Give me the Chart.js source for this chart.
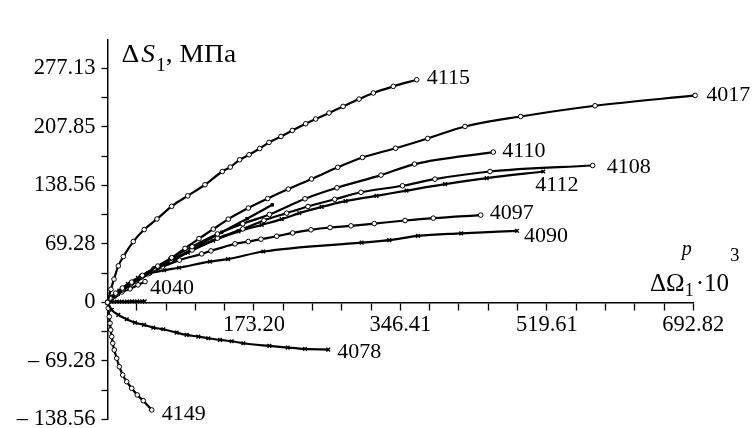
<!DOCTYPE html>
<html>
<head>
<meta charset="utf-8">
<script src="https://cdn.jsdelivr.net/npm/chart.js@4.4.0/dist/chart.umd.min.js"></script>
<style>
  html, body { margin: 0; padding: 0; background: #fff; }
  canvas { display: block; }
</style>
</head>
<body>
<canvas id="c" width="755" height="428"></canvas>
<script>
// Stress increment ΔS1 (MPa) versus plastic strain increment ΔΩ1^p·10^3
const curve4115 = [[0,0],[4.1,15.6],[7.7,27.5],[12.8,43.2],[18.7,54.2],[30.5,72.0],[43.4,86.2],[58.5,98.7],[75.9,113.7],[94.9,126.1],[115.3,139.2],[135.8,154.9],[145.2,160.1],[156.3,168.8],[167.4,174.7],[180.0,182.1],[191.0,189.3],[205.2,196.4],[218.6,203.5],[234.4,211.4],[246.2,217.0],[262.0,224.1],[278.6,231.9],[297.5,240.6],[314.4,247.8],[338.0,255.6],[365.7,263.5]];
const curve4017 = [[0,0],[3,5],[9.7,11],[17.5,17],[28.6,24],[41.2,32],[59.4,43],[75.9,53],[91.7,64],[108.2,75.5],[125.1,86.7],[142.9,98.5],[166.5,111.6],[189.5,122.9],[213.8,134.1],[241.3,146.0],[272.3,159.9],[301.6,171.5],[340.6,182.4],[378.7,194.0],[422.8,208.2],[488.7,220.0],[576.6,232.7],[695.0,244.9]];
const curve4110 = [[0,0],[4,5],[10,10],[18,16],[28,23],[40,31],[55,40],[75,52],[100,66],[130,81],[160,93],[191.5,104],[233.6,122.6],[271.4,135.6],[323.5,150.6],[363.1,163.7],[456.3,177.9]];
const curve4108 = [[0,0],[4,4.5],[10,9.5],[18,15],[28,22],[40,30],[55,39],[75,50],[100,62],[130,76],[160,87],[185,97],[211.9,105.6],[237.1,113.5],[268.7,122.0],[299.8,130.3],[348.9,138.0],[387.3,145.9],[452.4,154.9],[573.8,162.0]];
const curve4112 = [[0,0],[5,5],[12,10],[22,17],[35,26],[50,35],[70,46],[95,59],[125,73],[155,84],[182.4,91.8],[206.0,98.5],[226.8,105.6],[253.3,113.1],[281.5,119.9],[318.1,126.1],[353.6,132.3],[399.2,140.0],[448.5,147.1],[515.4,154.9]];
const curve4097 = [[0,0],[5,5],[12,10],[22,17],[33,25],[48,34],[65,42],[85,50],[111.4,57.4],[122.4,61.0],[150.8,69.3],[166.5,72.0],[181.5,74.8],[200.1,78.3],[219.0,82.2],[240.7,85.9],[263.2,88.6],[288.0,90.6],[315.5,93.3],[351.9,96.9],[385.3,99.7],[441.4,103.3]];
const curve4090 = [[0,0],[6,7],[14,14],[24,22],[36,29],[48,34],[67.2,38],[84.6,41],[121.2,48.3],[142.5,51.2],[184.3,60.2],[300.6,70.8],[333.3,73.7],[367.2,78.8],[418.4,81.7],[484.3,84.7]];
const curve4040 = [[0,0],[8.9,7.7],[17.1,12.4],[26.6,16.0],[36.1,20.7],[44.4,24.6]];
const curveShort = [[0,0],[8,7],[20,15],[35,25],[50,34],[75,48],[105,66],[135,83],[165,99],[194.8,115.5]];
const curveFlat = [[0,0],[5,0.8],[11,1],[17,1],[23,1],[29,1.2],[35,1.2],[41,1.3],[44,1.3]];
const curve4078 = [[0,0],[5,-8.9],[12.8,-14.8],[22.7,-19.9],[32.5,-23.9],[43.2,-26.6],[54.2,-29.8],[66,-31.8],[81.8,-35.8],[93.7,-38.5],[107.4,-40.5],[119.2,-42.4],[133,-44.4],[146.9,-46.0],[160.6,-48.3],[191.4,-51.5],[213.1,-53.5],[233.6,-55.1],[261.1,-55.8]];
const curve4149 = [[0,0],[0.9,-6.9],[2.1,-16.8],[3.0,-24.6],[3.8,-32.6],[5.0,-40.5],[6.2,-48.3],[8.0,-56.3],[10.9,-66.1],[14.0,-76.1],[18.0,-85.9],[22.7,-93.8],[28.6,-101.6],[35.2,-109.5],[42.3,-116.3],[52.3,-127.3]];

// Axis ticks
const xMajorValues = [173.20, 346.41, 519.61, 692.82];
const xMajorLabels = ['173.20', '346.41', '519.61', '692.82'];
const yMajorValues = [-138.56, -69.28, 0, 69.28, 138.56, 207.85, 277.13];
const yMajorLabels = ['\u2013 138.56', '\u2013 69.28', '0', '69.28', '138.56', '207.85', '277.13'];
const yAxisTop = 310.5;

const SERIF = '"Liberation Serif", "Times New Roman", serif';

function pts(arr) { return arr.map(p => ({ x: p[0], y: p[1] })); }

function openCircles(name, arr) {
  return { label: name, data: pts(arr), pointStyle: 'circle', pointRadius: 2.3,
    pointBackgroundColor: '#fff', pointBorderColor: '#000', pointBorderWidth: 1 };
}
function crosses(name, arr) {
  return { label: name, data: pts(arr), pointStyle: 'crossRot', pointRadius: 2.6,
    pointBackgroundColor: '#000', pointBorderColor: '#000', pointBorderWidth: 1.4 };
}

const datasets = [
  openCircles('4115', curve4115),
  openCircles('4017', curve4017),
  openCircles('4110', curve4110),
  openCircles('4108', curve4108),
  crosses('4112', curve4112),
  openCircles('4097', curve4097),
  crosses('4090', curve4090),
  { label: '', data: pts(curveShort), pointStyle: 'rect', pointRadius: 1.8,
    pointBackgroundColor: '#000', pointBorderColor: '#000', pointBorderWidth: 1 },
  openCircles('4040', curve4040),
  crosses('', curveFlat),
  crosses('4078', curve4078),
  openCircles('4149', curve4149)
].map(d => Object.assign({
  showLine: true, borderColor: '#000', borderWidth: 2.2, cubicInterpolationMode: 'monotone',
  clip: false, pointHoverRadius: 0
}, d));

// label placement next to each curve end (pixel offsets)
const labelOffsets = {
  '4115': [10, -2], '4017': [11, 0], '4110': [9, -1], '4108': [14, 2],
  '4112': [-8, 14], '4097': [9, -2], '4090': [7, 5], '4040': [5, 7],
  '4078': [9, 3], '4149': [10, 4]
};

function majorLabel(values, labels, v) {
  for (let i = 0; i < values.length; i++) if (Math.abs(values[i] - v) < 0.05) return labels[i];
  return '';
}

const endLabels = {
  id: 'endLabels',
  afterDatasetsDraw(chart) {
    const ctx = chart.ctx;
    ctx.save();
    ctx.fillStyle = '#000';
    ctx.font = '22px ' + SERIF;
    ctx.textAlign = 'left';
    ctx.textBaseline = 'middle';
    chart.data.datasets.forEach((ds, i) => {
      if (!ds.label) return;
      const meta = chart.getDatasetMeta(i);
      const last = meta.data[meta.data.length - 1];
      const off = labelOffsets[ds.label] || [8, 0];
      ctx.fillText(ds.label, last.x + off[0], last.y + off[1]);
    });
    ctx.restore();
  }
};

// draws a sequence of text pieces, horizontally stretched by sx
function drawRuns(ctx, x, y, runs, sx) {
  sx = sx || 1;
  runs.forEach(r => {
    ctx.font = r.font;
    const px = x + (r.dx || 0);
    ctx.save();
    ctx.translate(px, y + (r.dy || 0));
    ctx.scale(sx, 1);
    ctx.fillText(r.text, 0, 0);
    ctx.restore();
    x = px + ctx.measureText(r.text).width * sx;
  });
  return x;
}

const axisTitles = {
  id: 'axisTitles',
  afterDraw(chart) {
    const ctx = chart.ctx;
    const xs = chart.scales.x, ys = chart.scales.y;
    ctx.save();
    ctx.fillStyle = '#000';
    ctx.textAlign = 'left';
    ctx.textBaseline = 'alphabetic';
    // vertical axis title
    const x0 = xs.getPixelForValue(0);
    drawRuns(ctx, x0 + 14, 62, [
      { text: '\u0394', font: '25px ' + SERIF },
      { text: 'S', font: 'italic 25px ' + SERIF, dx: 2 },
      { text: '1', font: '18px ' + SERIF, dy: 9, dx: 1 },
      { text: ', \u041C\u041F\u0430', font: '25px ' + SERIF }
    ], 1.1);
    // horizontal axis title
    const y0 = ys.getPixelForValue(0);
    let cx = drawRuns(ctx, 650, y0 - 11, [
      { text: '\u0394\u03A9', font: '25px ' + SERIF }
    ]);
    drawRuns(ctx, cx - 3, y0 - 47, [{ text: 'p', font: 'italic 20px ' + SERIF }]);
    cx = drawRuns(ctx, cx, y0 - 6, [{ text: '1', font: '18px ' + SERIF }]);
    cx = drawRuns(ctx, cx + 2, y0 - 11, [{ text: '\u00B710', font: '25px ' + SERIF }]);
    drawRuns(ctx, cx + 1, y0 - 41, [{ text: '3', font: '19px ' + SERIF }]);
    ctx.restore();
  }
};

const tickFont = { family: SERIF, size: 22.5 };

new Chart(document.getElementById('c'), {
  type: 'scatter',
  data: { datasets },
  options: {
    responsive: false,
    animation: false,
    layout: { padding: { left: 0, right: 61.7, top: 40, bottom: 8.5 } },
    plugins: { legend: { display: false }, tooltip: { enabled: false } },
    events: [],
    scales: {
      x: {
        type: 'linear', min: 0, max: xMajorValues[xMajorValues.length - 1],
        position: { y: 0 },
        afterBuildTicks(scale) {
          const step = xMajorValues[xMajorValues.length - 1] / 20, t = [];
          for (let k = 1; k <= 20; k++) t.push({ value: k * step });
          scale.ticks = t;
        },
        afterFit(scale) { scale.paddingLeft = 0; scale.paddingRight = 0; },
        grid: { drawOnChartArea: false, drawTicks: true, tickLength: 7, tickColor: '#000', tickWidth: 1.3 },
        border: { display: true, color: '#000', width: 1.5 },
        ticks: {
          autoSkip: false, maxRotation: 0, font: tickFont, color: '#000', padding: 2,
          callback: (v) => majorLabel(xMajorValues, xMajorLabels, v)
        }
      },
      y: {
        type: 'linear', min: yMajorValues[0], max: yAxisTop,
        position: 'left',
        afterBuildTicks(scale) {
          const step = (yMajorValues[1] - yMajorValues[0]) / 2, t = [];
          for (let k = 0; k <= 12; k++) t.push({ value: yMajorValues[0] + k * step });
          scale.ticks = t;
        },
        afterFit(scale) { scale.width = 107.5; scale.paddingTop = 0; scale.paddingBottom = 0; },
        grid: { drawOnChartArea: false, drawTicks: true, tickLength: 6, tickColor: '#000', tickWidth: 1.3 },
        border: { display: true, color: '#000', width: 1.5 },
        ticks: {
          autoSkip: false, font: tickFont, color: '#000', padding: 6,
          callback: (v) => majorLabel(yMajorValues, yMajorLabels, v)
        }
      }
    }
  },
  plugins: [endLabels, axisTitles]
});
</script>
</body>
</html>
